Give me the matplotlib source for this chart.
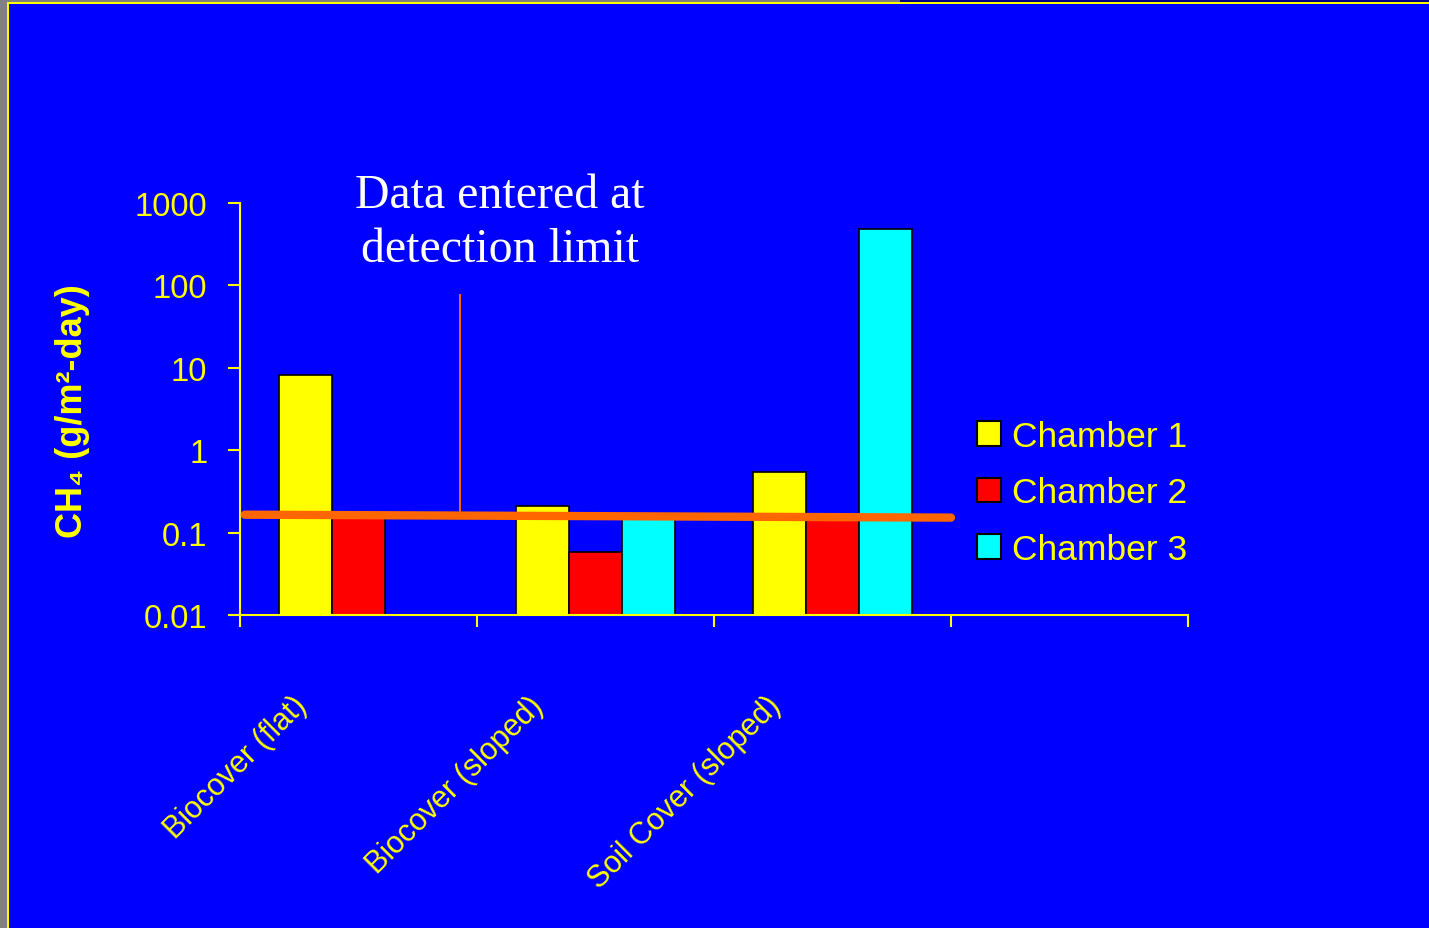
import numpy as np
import matplotlib
matplotlib.use("Agg")
import matplotlib.pyplot as plt
from matplotlib.patches import Rectangle, Patch
from matplotlib import transforms
from matplotlib.ticker import FixedLocator, FixedFormatter, NullLocator

# ---- data -------------------------------------------------------------
categories = ["Biocover (flat)", "Biocover (sloped)", "Soil Cover (sloped)", ""]
series_names = ["Chamber 1", "Chamber 2", "Chamber 3"]
chamber1 = [8.2, 0.21, 0.55, np.nan]
chamber2 = [0.15, 0.058, 0.15, np.nan]
chamber3 = [np.nan, 0.15, 480.0, np.nan]
series_colors = ["#FFFF00", "#FF0000", "#00FFFF"]

y_ticks = [0.01, 0.1, 1, 10, 100, 1000]
y_tick_labels = ["0.01", "0.1", "1", "10", "100", "1000"]

# detection-limit line (x in category units, y in CH4 units)
limit_x = [-0.48, 2.5]
limit_y = [0.165, 0.152]
# pointer from the note down to the detection-limit line
pointer_x = [0.428, 0.428]
pointer_y = [0.16, 77.0]

BLUE = "#0000FF"
YELLOW = "#FFFF00"
ORANGE = "#FF6600"

W, H = 1429, 929
fig = plt.figure(figsize=(W / 100, H / 100), dpi=100, facecolor=BLUE)


def fx(px):
    return px / W


def fy(py):
    return 1 - py / H


# slide frame: grey margin, navy strip and a thin yellow border
fig.add_artist(Rectangle((0, fy(3.3)), fx(900), 3.3 / H, transform=fig.transFigure,
                         facecolor="#808080", edgecolor="none"))
fig.add_artist(Rectangle((fx(900), fy(3.3)), 1 - fx(900), 3.3 / H, transform=fig.transFigure,
                         facecolor="#000080", edgecolor="none"))
fig.add_artist(Rectangle((0, 0), fx(6.7), 1, transform=fig.transFigure,
                         facecolor="#808080", edgecolor="none"))
fig.add_artist(Rectangle((fx(6.7), fy(5.3)), 1 - fx(6.7), 2.0 / H, transform=fig.transFigure,
                         facecolor=YELLOW, edgecolor="none"))
fig.add_artist(Rectangle((fx(6.7), 0), 2.0 / W, fy(3.3), transform=fig.transFigure,
                         facecolor=YELLOW, edgecolor="none"))

ax = fig.add_axes([fx(240), fy(616), fx(1188) - fx(240), fy(204) - fy(616)])
ax.set_facecolor("none")
ax.set_yscale("log")
ymin, ymax = 0.01, 1000
ax.set_ylim(ymin, ymax)
ax.set_xlim(-0.5, len(categories) - 0.5)

x = np.arange(len(categories))
bar_w = 0.224
for k, (vals, col) in enumerate(zip([chamber1, chamber2, chamber3], series_colors)):
    vals = np.asarray(vals, dtype=float)
    ax.bar(x + (k - 1) * bar_w, vals - ymin, bottom=ymin, width=bar_w,
           color=col, edgecolor="black", linewidth=1.2, zorder=2)

ax.plot(limit_x, limit_y, color=ORANGE, lw=6.0, solid_capstyle="round",
        zorder=4, clip_on=False)
ax.plot(pointer_x, pointer_y, color=ORANGE, lw=1.4, zorder=3)

# axes styling
for s in ["top", "right"]:
    ax.spines[s].set_visible(False)
for s in ["left", "bottom"]:
    ax.spines[s].set_color(YELLOW)
    ax.spines[s].set_linewidth(1.5)

ax.yaxis.set_major_locator(FixedLocator(y_ticks))
ax.yaxis.set_major_formatter(FixedFormatter(y_tick_labels))
ax.yaxis.set_minor_locator(NullLocator())
ax.tick_params(axis="y", direction="out", length=8.5, width=1.5, color=YELLOW,
               labelcolor=YELLOW, labelsize=23.5, pad=15)
for t in ax.get_yticklabels():
    t.set_family(["Liberation Sans", "DejaVu Sans"])

ax.set_xticks(np.arange(len(categories) + 1) - 0.5)
ax.set_xticklabels([])
ax.tick_params(axis="x", direction="out", length=8.5, width=1.5, color=YELLOW)

# rotated category names
base = transforms.blended_transform_factory(ax.transData, ax.transAxes)
shift = transforms.ScaledTranslation(-0.67, -0.75, fig.dpi_scale_trans)
for i, name in enumerate(categories):
    if name:
        ax.text(i, 0, name, transform=base + shift, rotation=45, ha="right", va="top",
                rotation_mode="anchor", fontsize=22, color=YELLOW,
                family=["Liberation Sans", "DejaVu Sans"])

# y-axis title
fig.text(fx(73), fy(411), "CH\u2084 (g/m\u00b2-day)", rotation=90, ha="center", va="center",
         fontsize=26, fontweight="bold", color=YELLOW,
         family=["Liberation Sans", "DejaVu Sans"])

# note about the detection limit
fig.text(fx(500), fy(207.7), "Data entered at", ha="center", va="baseline",
         fontsize=34.5, color="white", family=["Liberation Serif", "DejaVu Serif"])
fig.text(fx(500), fy(261.7), "detection limit", ha="center", va="baseline",
         fontsize=34.5, color="white", family=["Liberation Serif", "DejaVu Serif"])

# legend
handles = [Patch(facecolor=c, edgecolor="black", linewidth=1.5) for c in series_colors]
leg = ax.legend(handles, series_names, loc="upper left",
                bbox_to_anchor=(fx(977), fy(421)), bbox_transform=fig.transFigure,
                frameon=False, labelcolor=YELLOW,
                handlelength=0.68, handleheight=0.68, handletextpad=0.3,
                labelspacing=0.66, borderpad=0, borderaxespad=0,
                prop={"family": ["Liberation Sans", "DejaVu Sans"], "size": 25.5})

fig.savefig("out.png", dpi=100, facecolor=BLUE)
